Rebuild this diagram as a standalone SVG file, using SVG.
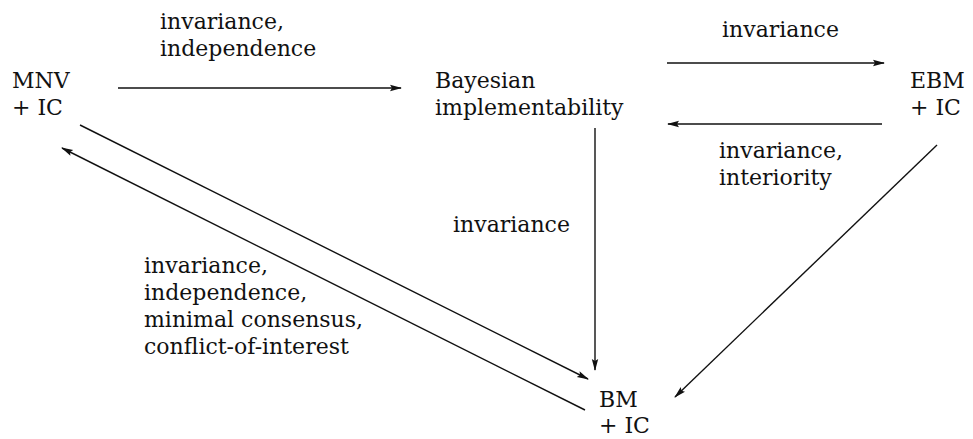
<svg xmlns="http://www.w3.org/2000/svg" width="973" height="439" viewBox="0 0 973 439">
<style>
text{font-family:'DejaVu Serif','Liberation Serif',serif;font-size:22px;fill:#111}
.c line{stroke:#111;stroke-width:1.4;fill:none}
</style>
<defs>
<marker id="ah" viewBox="0 0 12 8" refX="11" refY="4" markerWidth="12" markerHeight="8" markerUnits="userSpaceOnUse" orient="auto">
<path d="M0,0.8 L12,4 L0,7.2 L2,4 Z" fill="#111"/>
</marker>
</defs>
<rect width="973" height="439" fill="#fff"/>
<g id="mnv"><text x="12" y="88">MNV</text><text x="12" y="115">+ IC</text></g>
<g id="bayes"><text x="435" y="88">Bayesian</text><text x="435" y="115">implementability</text></g>
<g id="ebm"><text x="910" y="88">EBM</text><text x="910" y="115">+ IC</text></g>
<g id="bm"><text x="599" y="407">BM</text><text x="599" y="433">+ IC</text></g>
<g class="c" id="connectors">
<line x1="118" y1="88" x2="401" y2="88" marker-end="url(#ah)"/>
<line x1="667" y1="63" x2="884" y2="63" marker-end="url(#ah)"/>
<line x1="882" y1="124" x2="668" y2="124" marker-end="url(#ah)"/>
<line x1="595" y1="128" x2="595" y2="370" marker-end="url(#ah)"/>
<line x1="80" y1="125" x2="588" y2="379" marker-end="url(#ah)"/>
<line x1="585" y1="410" x2="62" y2="148" marker-end="url(#ah)"/>
<line x1="937" y1="145" x2="675" y2="397" marker-end="url(#ah)"/>
</g>
<g id="labels">
<text x="160" y="29">invariance,</text><text x="160" y="56">independence</text>
<text x="722" y="37">invariance</text>
<text x="719" y="158">invariance,</text><text x="719" y="185">interiority</text>
<text x="453" y="232">invariance</text>
<text x="144" y="273">invariance,</text><text x="144" y="300">independence,</text><text x="144" y="327">minimal consensus,</text><text x="144" y="354">conflict-of-interest</text>
</g>
</svg>
